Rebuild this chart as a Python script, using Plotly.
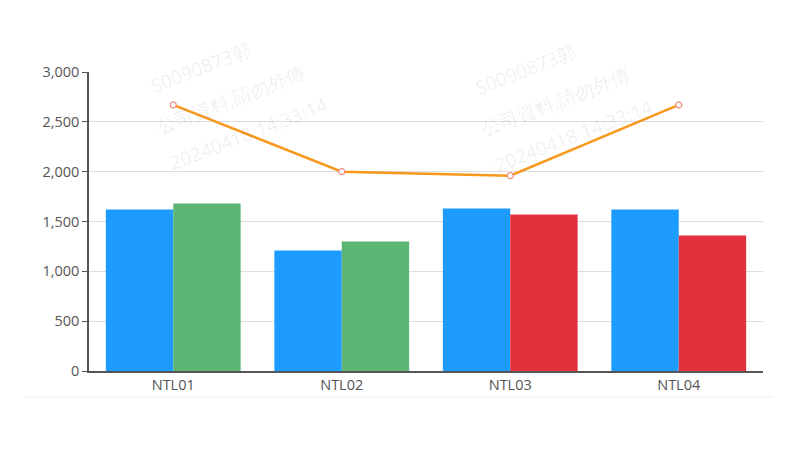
import plotly.graph_objects as go

categories = ["NTL01", "NTL02", "NTL03", "NTL04"]
series_a = [1620, 1210, 1630, 1620]
series_b = [1680, 1300, 1570, 1360]
series_b_colors = ["#5CB574", "#5CB574", "#E3303D", "#E3303D"]
line_values = [2670, 2000, 1960, 2670]
y_ticks = [0, 500, 1000, 1500, 2000, 2500, 3000]

watermark_lines = ["S0090873郭", "公司資料,請勿外傳", "20240418 14:33:14"]

fig = go.Figure()
fig.add_trace(go.Bar(x=categories, y=series_a, marker=dict(color="#1E9BFF", line=dict(width=0)),
                     showlegend=False))
fig.add_trace(go.Bar(x=categories, y=series_b, marker=dict(color=series_b_colors, line=dict(width=0)),
                     showlegend=False))
fig.add_trace(go.Scatter(x=categories, y=line_values, mode="lines+markers",
                         line=dict(color="#F7981D", width=2.5),
                         marker=dict(symbol="circle", size=6, color="white",
                                     line=dict(color="#F08A80", width=1.2)),
                         showlegend=False))

OFF = 8  # page body margin
W, H = 800, 453
# desired plot area in window pixels
PL, PR, PT, PB = 89, 763, 72, 371
L, T = PL - OFF, PT - OFF
R = W - (PR - OFF)
B = H - (PB - OFF)

fig.update_layout(
    width=W, height=H,
    margin=dict(l=L, r=R, t=T, b=B),
    paper_bgcolor="white", plot_bgcolor="white",
    barmode="group", bargap=0.2, bargroupgap=0,
    font=dict(family="Open Sans, Noto Sans, sans-serif", size=14, color="#555"),
    xaxis=dict(showline=True, linecolor="#555", linewidth=1.5, ticks="", showgrid=False,
               tickfont=dict(size=14.5, color="#555")),
    yaxis=dict(range=[0, 3000], tickvals=y_ticks, tickformat=",", showline=True,
               linecolor="#555", linewidth=1.5, ticks="outside", ticklen=5, tickcolor="#555",
               gridcolor="#dddddd", gridwidth=1, zeroline=False,
               tickfont=dict(size=14.5, color="#555")),
)

def px_to_paper(x, y):
    return (x - PL) / (PR - PL), 1 - (y - PT) / (PB - PT)

# watermark
blocks = [(200, 68), (525, 70)]
offsets = [(0, 0), (30, 32), (48, 66)]
for bx, by in blocks:
    for txt, (dx, dy) in zip(watermark_lines, offsets):
        px, py = px_to_paper(bx + dx, by + dy)
        fig.add_annotation(x=px, y=py, xref="paper", yref="paper", text=txt,
                           showarrow=False, textangle=-21, xanchor="center", yanchor="middle",
                           font=dict(size=19, color="rgba(0,0,0,0.075)"))

# bottom divider line
x0, y0 = px_to_paper(25, 397)
x1, _ = px_to_paper(773, 397)
fig.add_shape(type="line", xref="paper", yref="paper", x0=x0, x1=x1, y0=y0, y1=y0,
              line=dict(color="#eeeeee", width=1))

fig.write_html("out.html")
